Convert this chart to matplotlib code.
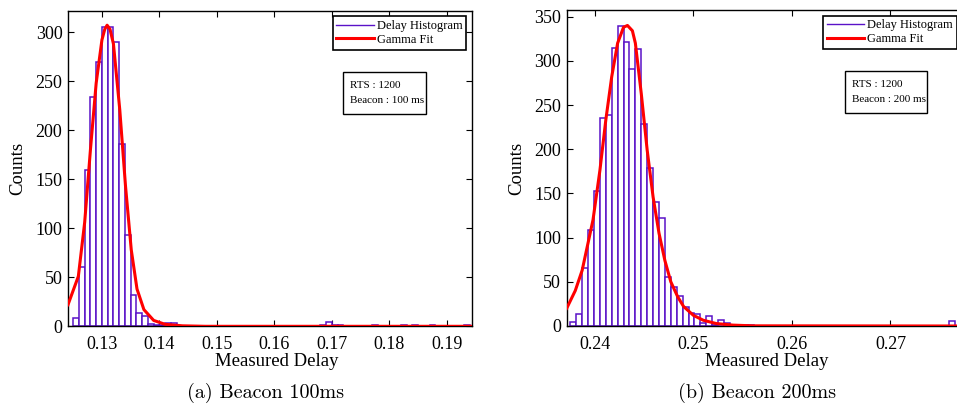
import numpy as np
import matplotlib
matplotlib.use("Agg")
import matplotlib.pyplot as plt
from matplotlib.lines import Line2D
from matplotlib.patches import Rectangle

# ---------------- data ----------------
# (a) Beacon 100 ms : histogram bins (width 0.001 s), non-empty bins only
left_bin_width = 0.001
left_bin_centers = [0.1255, 0.1265, 0.1275, 0.1285, 0.1295, 0.1305, 0.1315, 0.1325,
                    0.1335, 0.1345, 0.1355, 0.1365, 0.1375, 0.1385, 0.1395, 0.1405,
                    0.1415, 0.1425, 0.1685, 0.1695, 0.1705, 0.1715, 0.1775, 0.1825,
                    0.1845, 0.1875, 0.1935]
left_counts = [8, 60, 159, 234, 269, 305, 305, 290, 186, 93, 32, 14, 11, 2, 1, 1,
               3, 3, 1, 4, 1, 1, 1, 1, 1, 1, 1]
# gamma fit curve
left_fit_x = [0.1241, 0.1259, 0.1270, 0.1280, 0.1290, 0.1300, 0.1305, 0.1309, 0.1314,
              0.1320, 0.1331, 0.1341, 0.1351, 0.1361, 0.1373, 0.1390, 0.1410, 0.1440,
              0.1480, 0.1943]
left_fit_y = [22, 51, 106, 180, 248, 292, 303, 307, 303, 288, 221, 143, 78, 38, 17,
              6, 2, 0.5, 0, 0]
left_xticks = [0.13, 0.14, 0.15, 0.16, 0.17, 0.18, 0.19]
left_yticks = [0, 50, 100, 150, 200, 250, 300]

# (b) Beacon 200 ms : histogram bins (width 0.0006 s), non-empty bins only
right_bin_width = 0.0006
right_bin_centers = [0.2378, 0.2384, 0.2390, 0.2396, 0.2402, 0.2408, 0.2414, 0.2420,
                     0.2426, 0.2432, 0.2438, 0.2444, 0.2450, 0.2456, 0.2462, 0.2468,
                     0.2474, 0.2480, 0.2486, 0.2492, 0.2498, 0.2504, 0.2510, 0.2516,
                     0.2522, 0.2528, 0.2534, 0.2552, 0.2558, 0.2762]
right_counts = [4, 14, 66, 109, 153, 235, 239, 315, 339, 321, 291, 313, 229, 179, 140,
                122, 56, 44, 34, 22, 15, 14, 3, 11, 1, 7, 3, 1, 1, 6]
right_fit_x = [0.23713, 0.2380, 0.2387, 0.2398, 0.2405, 0.2411, 0.2417, 0.2423, 0.2429,
               0.2433, 0.2438, 0.2441, 0.2447, 0.2453, 0.2459, 0.2465, 0.2471, 0.2477,
               0.2484, 0.2490, 0.2500, 0.2510, 0.2523, 0.2540, 0.2560, 0.2773]
right_fit_y = [20, 40, 63, 120, 176, 233, 282, 320, 338, 340, 334, 320, 263, 199, 146,
               105, 74, 50, 33, 22, 12, 6.5, 2.8, 1, 0.2, 0]
right_xticks = [0.24, 0.25, 0.26, 0.27]
right_yticks = [0, 50, 100, 150, 200, 250, 300, 350]

legend_labels = ["Delay Histogram", "Gamma Fit"]
info_left = ["RTS : 1200", "Beacon : 100 ms"]
info_right = ["RTS : 1200", "Beacon : 200 ms"]
captions = ["(a) Beacon 100ms", "(b) Beacon 200ms"]
xlabel = "Measured Delay"
ylabel = "Counts"

# ---------------- style ----------------
PURPLE = "#5a12c8"
RED = "#ff0000"
SERIF = ["Liberation Serif", "DejaVu Serif"]
plt.rcParams["font.family"] = SERIF

W, H = 957, 409
fig = plt.figure(figsize=(W / 100, H / 100), dpi=100)


def rect(x0, x1, ytop, ybot):
    return [x0 / W, 1 - ybot / H, (x1 - x0) / W, (ybot - ytop) / H]


def draw(ax, centers, counts, bw, fx, fy, xlim, ylim, xticks, yticks, info, box,
         right_ticks=True):
    ax.bar(centers, counts, width=bw, facecolor="white", edgecolor=PURPLE,
           linewidth=1.1, zorder=2)
    ax.plot(fx, fy, color=RED, linewidth=2.2, zorder=3)
    ax.set_xlim(*xlim)
    ax.set_ylim(*ylim)
    ax.set_xticks(xticks)
    ax.set_xticklabels([f"{t:.2f}" for t in xticks])
    ax.set_yticks(yticks)
    ax.tick_params(direction="in", length=4, width=0.8, top=True, right=right_ticks,
                   labelsize=13, pad=4)
    ax.tick_params(axis="x", pad=7)
    for s in ax.spines.values():
        s.set_linewidth(1.0)
        s.set_color("black")
    handles = [Line2D([], [], color=PURPLE, lw=1.0), Line2D([], [], color=RED, lw=2.2)]
    leg = ax.legend(handles, legend_labels, loc="upper right",
                    bbox_to_anchor=(0.987, 0.982), borderaxespad=0, fancybox=False,
                    edgecolor="black", framealpha=1, fontsize=9, handlelength=3.0,
                    handletextpad=0.25, labelspacing=0.15, borderpad=0.3)
    leg.get_frame().set_linewidth(1.2)
    bx0, bx1, by0, by1 = box
    ax.add_patch(Rectangle((bx0, by0), bx1 - bx0, by1 - by0, transform=ax.transAxes,
                           facecolor="white", edgecolor="black", linewidth=1.0,
                           zorder=5))
    ax.text(bx0 + 0.018, by1 - (by1 - by0) * 0.32, info[0], transform=ax.transAxes,
            fontsize=8, va="center", ha="left", zorder=6)
    ax.text(bx0 + 0.018, by1 - (by1 - by0) * 0.68, info[1], transform=ax.transAxes,
            fontsize=8, va="center", ha="left", zorder=6)


axL = fig.add_axes(rect(68, 471.7, 10.5, 326.3))
draw(axL, left_bin_centers, left_counts, left_bin_width, left_fit_x, left_fit_y,
     (0.1241, 0.1943), (0, 322), left_xticks, left_yticks, info_left,
     (0.681, 0.886, 0.672, 0.806))

axR = fig.add_axes(rect(566.7, 962, 10, 326))
draw(axR, right_bin_centers, right_counts, right_bin_width, right_fit_x, right_fit_y,
     (0.23713, 0.27726), (0, 357.5), right_xticks, right_yticks, info_right,
     (0.704, 0.912, 0.675, 0.807), right_ticks=False)

# axis labels
fig.text(277 / W, 1 - 362 / H, xlabel, ha="center", va="center", fontsize=13.5)
fig.text(767 / W, 1 - 362 / H, xlabel, ha="center", va="center", fontsize=13.5)
fig.text(17.5 / W, 1 - 168 / H, ylabel, ha="center", va="center", fontsize=13.5,
         rotation=90)
fig.text(517 / W, 1 - 168 / H, ylabel, ha="center", va="center", fontsize=13.5,
         rotation=90)

# captions
fig.text(266 / W, 1 - 393 / H, captions[0], ha="center", va="center", fontsize=14.5,
         family=["cmr10", "DejaVu Serif"])
fig.text(757 / W, 1 - 393 / H, captions[1], ha="center", va="center", fontsize=14.5,
         family=["cmr10", "DejaVu Serif"])

fig.savefig("out.png", dpi=100)
